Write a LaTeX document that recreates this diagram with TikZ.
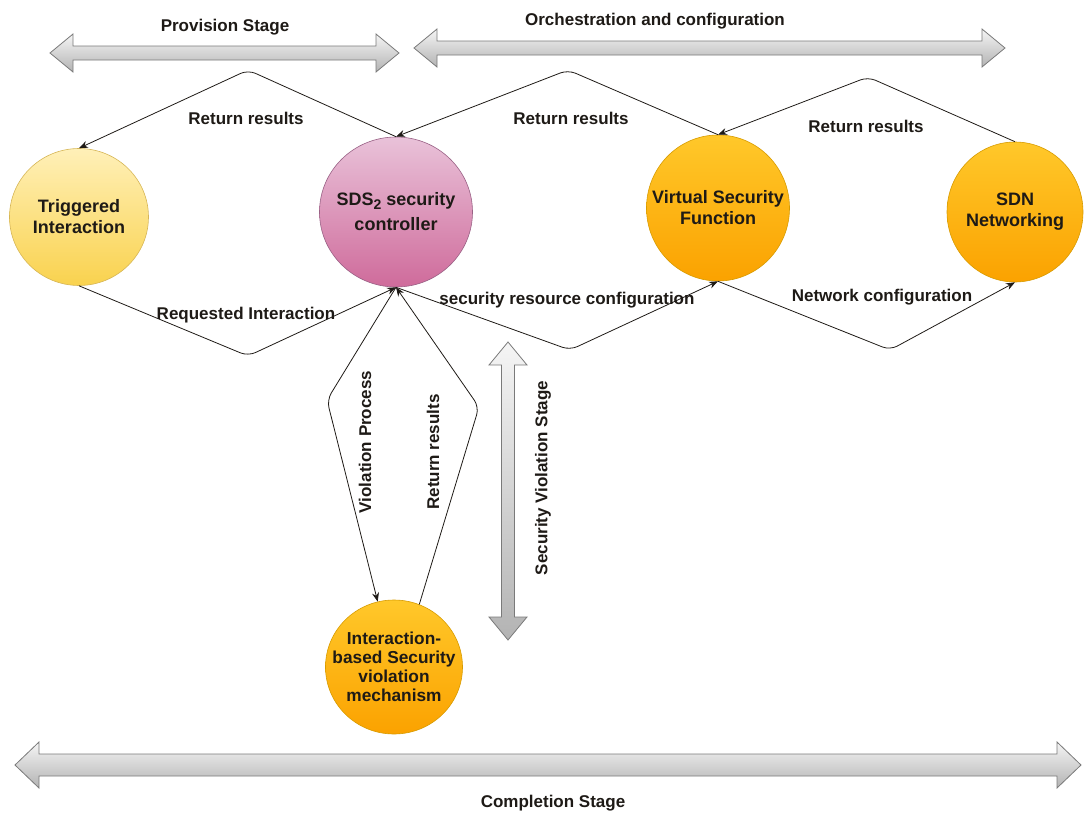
\documentclass[tikz,border=0pt]{standalone}
\usepackage{fontspec}
\setmainfont{Liberation Sans}
\usetikzlibrary{arrows.meta,shapes.geometric}

\definecolor{yfill}{HTML}{FFF0B8}
\definecolor{ygrad}{HTML}{F9D24E}
\definecolor{ystroke}{HTML}{D6B656}
\definecolor{pfill}{HTML}{E9C2D9}
\definecolor{pgrad}{HTML}{CF6B9B}
\definecolor{pstroke}{HTML}{996185}
\definecolor{ofill}{HTML}{FFC82A}
\definecolor{ograd}{HTML}{FBA200}
\definecolor{ostroke}{HTML}{D79B00}
\definecolor{gfill}{HTML}{F5F5F5}
\definecolor{ggrad}{HTML}{B3B3B3}
\definecolor{gstroke}{HTML}{7A7A7A}
\definecolor{ink}{HTML}{1E1A16}

% horizontal double block arrow: x-left, x-right, y, shaft half, head half, head length
\newcommand\hstagearrow[6]{%
  \shadedraw[stagefill] (#1,#3) -- (#1+#6,#3-#5) -- (#1+#6,#3-#4) -- (#2-#6,#3-#4)
    -- (#2-#6,#3-#5) -- (#2,#3) -- (#2-#6,#3+#5) -- (#2-#6,#3+#4)
    -- (#1+#6,#3+#4) -- (#1+#6,#3+#5) -- cycle;}
% vertical double block arrow: x, y-top, y-bottom, shaft half, head half, head length
\newcommand\vstagearrow[6]{%
  \shadedraw[stagefill] (#1,#2) -- (#1+#5,#2+#6) -- (#1+#4,#2+#6) -- (#1+#4,#3-#6)
    -- (#1+#5,#3-#6) -- (#1,#3) -- (#1-#5,#3-#6) -- (#1-#4,#3-#6)
    -- (#1-#4,#2+#6) -- (#1-#5,#2+#6) -- cycle;}

\begin{document}
\begin{tikzpicture}[x=1pt,y=-1pt,
  font=\fontsize{17}{21}\selectfont\bfseries,
  every node/.style={text=ink},
  stagefill/.style={top color=gfill, bottom color=ggrad, draw=gstroke, line width=0.8pt},
  bubble/.style={ellipse, draw, line width=0.6pt, inner sep=0pt},
  yellownode/.style={bubble, top color=yfill, bottom color=ygrad, draw=ystroke},
  pinknode/.style={bubble, top color=pfill, bottom color=pgrad, draw=pstroke},
  orangenode/.style={bubble, top color=ofill, bottom color=ograd, draw=ostroke},
  bubbletext/.style={label={[align=center, text=ink,
    font=\fontsize{18}{21}\selectfont\bfseries]center:#1}},
  conn/.style={draw=ink, line width=0.8pt, rounded corners=8pt,
    -{Stealth[length=9pt,width=7pt]}},
  lbl/.style={inner sep=1pt}
]
\useasboundingbox (0,0) rectangle (1085,817);

% stage arrows
\hstagearrow{50}{399}{53}{7}{19}{23}
\hstagearrow{414}{1005}{48}{7}{19}{23}
\hstagearrow{15}{1081}{765}{11}{23}{24}
\vstagearrow{508}{342}{640}{6.5}{19}{23}

\node[lbl] (provision) at (225,27) {Provision Stage};
\node[lbl] (orchestration) at (655,21) {Orchestration and configuration};
\node[lbl] (completion) at (553,803) {Completion Stage};
\node[lbl, rotate=90] (violstage) at (543,478) {Security Violation Stage};

% components
\node[yellownode, minimum width=139, minimum height=137,
  bubbletext={Triggered\\Interaction}] (trig) at (79,217) {};
\node[pinknode, minimum width=153, minimum height=150,
  bubbletext={SDS\raisebox{-4pt}{\fontsize{14}{14}\selectfont 2} security\\[4pt]controller}]
  (sds) at (396,212) {};
\node[orangenode, minimum width=143, minimum height=146,
  bubbletext={Virtual Security\\Function}] (vsf) at (718,208) {};
\node[orangenode, minimum width=136, minimum height=140,
  bubbletext={SDN\\Networking}] (sdn) at (1015,212) {};
\node[orangenode, minimum width=137, minimum height=134,
  label={[align=center, text=ink, font=\fontsize{17.3}{19}\selectfont\bfseries]center:Interaction-\\based Security\\violation\\mechanism}]
  (ibs) at (394,667) {};

% bend points of the connectors
\coordinate (peakA) at (248,70);
\coordinate (peakB) at (568,70);
\coordinate (peakC) at (868,77);
\coordinate (valleyA) at (248,356);
\coordinate (valleyB) at (570,350);
\coordinate (valleyC) at (890,350);
\coordinate (bendV) at (327,400);
\coordinate (bendR) at (479,407);

% connectors
\draw[conn] (sds.north) -- (peakA) -- (trig.north);
\draw[conn] (vsf.north) -- (peakB) -- (sds.north);
\draw[conn] (sdn.north) -- (peakC) -- (vsf.north);
\draw[conn] (trig.south) -- (valleyA) -- (sds.south);
\draw[conn] (sds.south) -- (valleyB) -- (vsf.south);
\draw[conn] (vsf.south) -- (valleyC) -- (sdn.south);
\draw[conn] (sds.south) -- (bendV) -- (ibs.104);
\draw[conn] (ibs.68) -- (bendR) -- (sds.south);

% connector labels
\node[lbl] (rr1) at (246,118) {Return results};
\node[lbl] (rr2) at (571,118) {Return results};
\node[lbl] (rr3) at (866,126) {Return results};
\node[lbl] (req) at (246,315) {Requested Interaction};
\node[lbl] (src) at (567,300) {security resource configuration};
\node[lbl] (netcfg) at (882,297) {Network configuration};
\node[lbl, rotate=90] (violproc) at (365,442) {Violation Process};
\node[lbl, rotate=90] (rr4) at (433,452) {Return results};
\end{tikzpicture}
\end{document}
